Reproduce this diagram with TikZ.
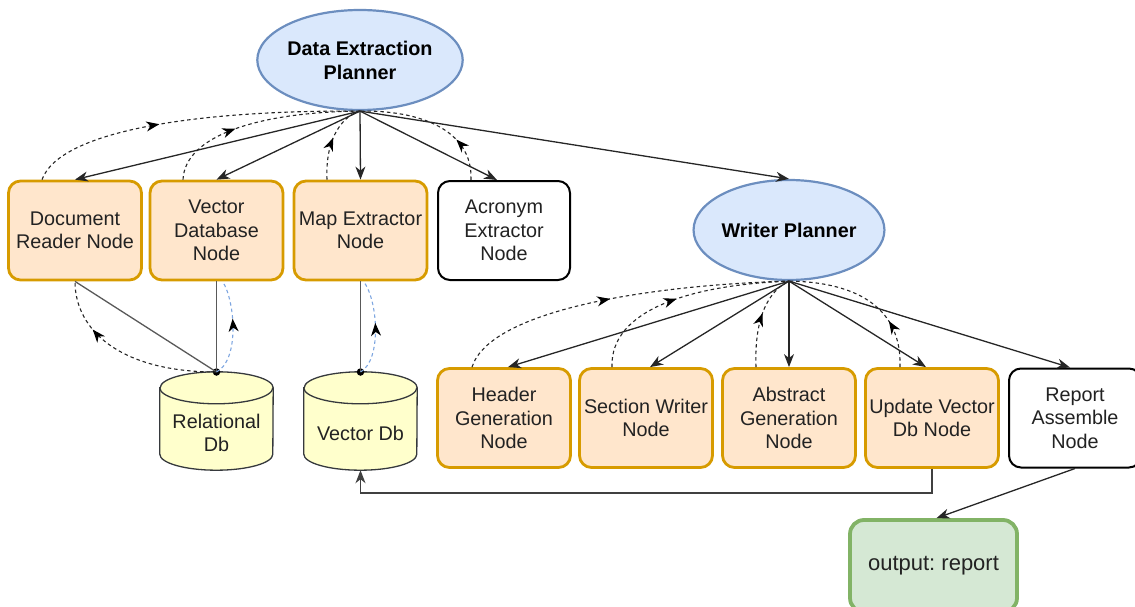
\documentclass[tikz,border=0pt]{standalone}
\usepackage{fontspec}
\setmainfont{Liberation Sans}
\usetikzlibrary{arrows.meta,shapes.geometric,decorations.markings}

\definecolor{orangefill}{HTML}{FFE6CC}
\definecolor{orangeline}{HTML}{D79B00}
\definecolor{bluefill}{HTML}{DAE8FC}
\definecolor{blueline}{HTML}{6C8EBF}
\definecolor{dbfill}{HTML}{FFFFCC}
\definecolor{dbline}{HTML}{36393D}
\definecolor{greenfill}{HTML}{D5E8D4}
\definecolor{greenline}{HTML}{82B366}
\definecolor{txt}{HTML}{222222}
\definecolor{linkblue}{HTML}{7EA6E0}

\frenchspacing

\tikzset{
  every node/.style={font=\fontsize{19.8}{23.5}\selectfont, text=txt, align=center},
  planner/.style={ellipse, draw=blueline, fill=bluefill, line width=2.2pt,
    minimum width=184pt, minimum height=100pt, inner sep=0pt,
    font=\bfseries\fontsize{19.8}{24}\selectfont, text=black},
  procbox/.style={rectangle, rounded corners=12pt, draw=orangeline, fill=orangefill,
    line width=2.8pt, minimum width=133pt, minimum height=99pt, inner sep=0pt},
  plainbox/.style={rectangle, rounded corners=12pt, draw=black, fill=white,
    line width=2pt, minimum width=132pt, minimum height=99pt, inner sep=0pt},
  outbox/.style={rectangle, rounded corners=14pt, draw=greenline, fill=greenfill,
    line width=3.8pt, minimum width=167pt, minimum height=92pt, inner sep=0pt,
    font=\fontsize{22}{26}\selectfont},
  dbbody/.style={rectangle, minimum width=113pt, minimum height=98pt, inner sep=0pt},
  junction/.style={circle, fill=black, inner sep=0pt, minimum size=7.5pt},
  conn/.style={line width=1.3pt, draw=black!85, ->},
  wire/.style={line width=1.3pt, draw=black!65},
  retconn/.style={line width=1.1pt, draw=black!85, dash pattern=on 3.5pt off 3pt},
  bluelink/.style={line width=1.1pt, draw=linkblue, dash pattern=on 3.5pt off 3pt},
  midarrow/.style={postaction={decorate}, decoration={markings,
    mark=at position #1 with {\arrow[black]{>}}}},
}

% database cylinder drawn around a dbbody node
\newcommand\dbcyl[1]{%
  \path[draw=dbline, fill=dbfill, line width=1.3pt]
    ([yshift=-16pt]#1.north west) -- ([yshift=16pt]#1.south west)
    arc[start angle=180, end angle=360, x radius=56.5pt, y radius=16pt]
    -- ([yshift=-16pt]#1.north east)
    arc[start angle=0, end angle=180, x radius=56.5pt, y radius=16pt] -- cycle;
  \draw[dbline, line width=1.3pt] ([yshift=-16pt]#1.north west)
    arc[start angle=180, end angle=360, x radius=56.5pt, y radius=16pt];
}

\begin{document}
\begin{tikzpicture}[x=1pt, y=-1pt, >={Stealth[length=13pt,width=10pt,inset=4pt]}]
\useasboundingbox (0,0) rectangle (1135,607);

% planners
\node[planner] (dep) at (360,60) {Data Extraction\\Planner};
\node[planner] (wp) at (789,230) {Writer Planner};

% extraction agents
\node[procbox] (drn) at (75,230.5) {Document\\Reader Node};
\node[procbox] (vdn) at (216.5,230.5) {Vector\\Database\\Node};
\node[procbox] (men) at (360.5,230.5) {Map Extractor\\Node};
\node[plainbox] (aen) at (504,230.5) {Acronym\\Extractor\\Node};

% writer agents
\node[procbox] (hgn) at (504,418) {Header\\Generation\\Node};
\node[procbox] (swn) at (646,418) {Section Writer\\Node};
\node[procbox] (agn) at (789,418) {Abstract\\Generation\\Node};
\node[procbox] (uvn) at (932,418) {Update Vector\\Db Node};
\node[plainbox] (ran) at (1075,418) {Report\\Assemble\\Node};
\node[outbox] (out) at (933.5,566) {output: report};

% databases
\node[dbbody] (rdb) at (216.5,421) {};
\dbcyl{rdb}
\node (rdbtext) at ([yshift=-12pt]rdb.center) {Relational\\Db};
\node[dbbody] (vdb) at (360.5,421) {};
\dbcyl{vdb}
\node (vdbtext) at ([yshift=-12pt]vdb.center) {Vector Db};

% planner -> agents
\draw[conn] (dep.south) -- (drn.north);
\draw[conn] (dep.south) -- (vdn.north);
\draw[conn] (dep.south) -- (men.north);
\draw[conn] (dep.south) -- ([xshift=-7pt]aen.north);
\draw[conn] (dep.south) -- (wp.north);

\draw[conn] (wp.south) -- ([xshift=4pt]hgn.north);
\draw[conn] (wp.south) -- ([xshift=4pt]swn.north);
\draw[conn] (wp.south) -- (agn.north);
\draw[conn] (wp.south) -- ([xshift=-6pt]uvn.north);
\draw[conn] (wp.south) -- ([xshift=-5pt]ran.north);

% agents report back to their planner
\draw[retconn, midarrow=0.4] ([xshift=-33pt]drn.north) .. controls (60,130) and (200,110) .. (dep.south);
\draw[retconn, midarrow=0.38] ([xshift=-33.5pt]vdn.north) .. controls (185,135) and (260,112) .. (dep.south);
\draw[retconn, midarrow=0.52] ([xshift=-33.5pt]men.north) .. controls (325,135) and (345,115) .. (dep.south);
\draw[retconn, midarrow=0.3] ([xshift=-33pt]aen.north) .. controls (473,130) and (420,110) .. (dep.south);

\draw[retconn, midarrow=0.47] ([xshift=-32pt]hgn.north) .. controls (490,310) and (650,285) .. (wp.south);
\draw[retconn, midarrow=0.47] ([xshift=-34pt]swn.north) .. controls (610,310) and (690,285) .. (wp.south);
\draw[retconn, midarrow=0.56] ([xshift=-33pt]agn.north) .. controls (754,315) and (770,290) .. (wp.south);
\draw[retconn, midarrow=0.3] ([xshift=-32pt]uvn.north) .. controls (902,310) and (860,282) .. (wp.south);

% database links
\node[junction] (rdot) at (216.5,372) {};
\node[junction] (vdot) at (360.5,372) {};
\draw[wire] (rdot.center) -- (drn.south);
\draw[wire] (rdot.center) -- (vdn.south);
\draw[wire] (vdot.center) -- (men.south);
\draw[retconn, midarrow=0.72] (rdot.center) .. controls (120,372) and (75,330) .. (drn.south);
\draw[bluelink, midarrow=0.6] (rdot.center) .. controls (240,360) and (235,300) .. ([xshift=6pt]vdn.south);
\draw[bluelink, midarrow=0.55] (vdot.center) .. controls (382,360) and (378,300) .. ([xshift=3pt]men.south);

% results
\draw[conn, draw=black!75] (uvn.south) -- ++(0,24) -| (vdb.south);
\draw[conn] (ran.south) -- ([xshift=3pt]out.north);
\end{tikzpicture}
\end{document}
